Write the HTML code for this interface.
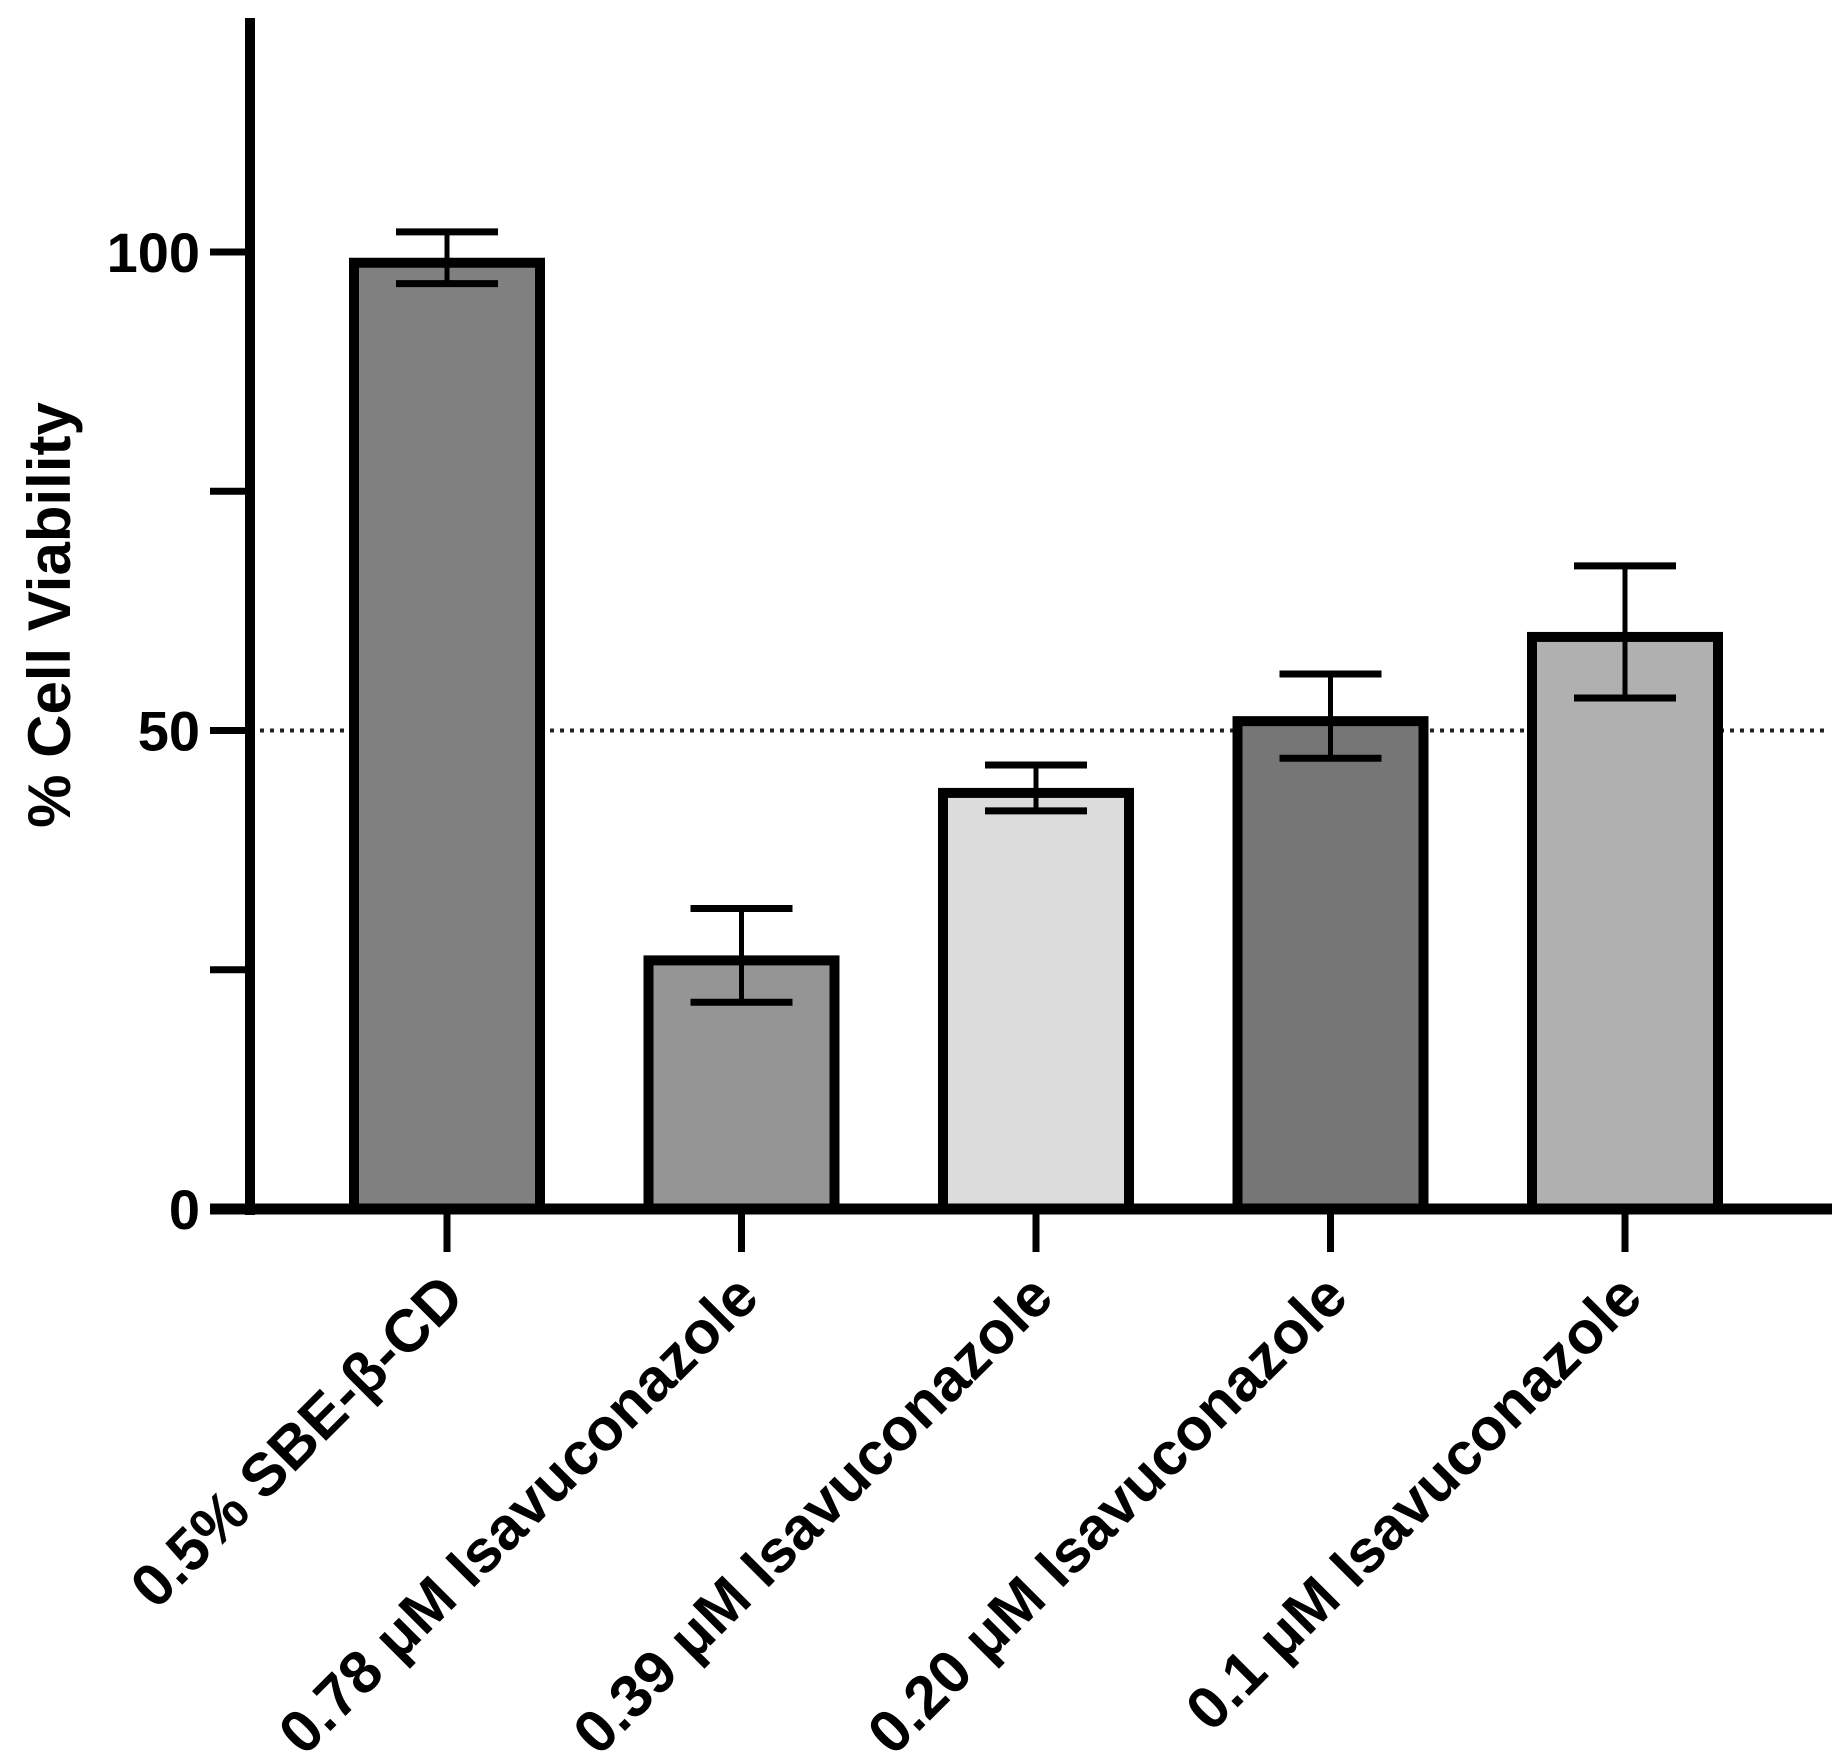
<!DOCTYPE html>
<html><head><meta charset="utf-8"><style>
html,body{margin:0;padding:0;background:#fff;}
svg{display:block;font-family:"Liberation Sans",Arial,sans-serif;font-weight:bold;}
</style></head><body>
<svg id="chart" width="1844" height="1758" viewBox="0 0 1844 1758"></svg>
<script>
const categories = ["0.5% SBE-β-CD","0.78 μM Isavuconazole","0.39 μM Isavuconazole","0.20 μM Isavuconazole","0.1 μM Isavuconazole"];
const means = [99.4, 26.5, 44.0, 51.5, 60.3];
const errors = [2.7, 4.9, 2.4, 4.4, 6.9];
const fills = ["#808080","#959595","#dcdcdc","#767676","#b0b0b0"];
const yTicks = [0, 25, 50, 75, 100];
const yTickLabels = ["0", "", "50", "", "100"];
const refLine = 50;

const NS = "http://www.w3.org/2000/svg";
const svg = document.getElementById("chart");
const y0 = 1209, pxPerUnit = 9.57;
const yScale = v => y0 - v * pxPerUnit;
const firstX = 447, step = 294.5, barW = 196;
const xScale = i => firstX + i * step;
const axisX = 250;

function mk(tag, attrs, parent) {
  const e = document.createElementNS(NS, tag);
  for (const k in attrs) e.setAttribute(k, attrs[k]);
  (parent || svg).appendChild(e);
  return e;
}

const ref = mk("line", {x1: axisX, x2: 1830, y1: yScale(refLine), y2: yScale(refLine), stroke: "#222", "stroke-width": 4, "stroke-dasharray": "4 6"});



categories.forEach((c, i) => {
  const cx = xScale(i);
  const top = yScale(means[i]);
  const r = mk("rect", {x: cx - barW/2 + 5, y: top + 5, width: barW - 10, height: y0 - top - 5, fill: fills[i], stroke: "#000", "stroke-width": 10});
  
  
  const g = mk("g", {stroke: "#000", "stroke-width": 5});
  
  
  const hi = yScale(means[i] + errors[i]), lo = yScale(means[i] - errors[i]);
  mk("line", {x1: cx, x2: cx, y1: hi, y2: lo}, g);
  mk("line", {x1: cx - 51, x2: cx + 51, y1: hi, y2: hi, "stroke-width": 7}, g);
  mk("line", {x1: cx - 51, x2: cx + 51, y1: lo, y2: lo, "stroke-width": 7}, g);
  const t = mk("line", {x1: cx, x2: cx, y1: y0, y2: 1252, stroke: "#000", "stroke-width": 7});
  
  
  const lbl = mk("text", {x: 0, y: 0, "font-size": 60, "text-anchor": "end", transform: `translate(${cx + 20},${1300}) rotate(-45)`});
  lbl.textContent = c;
  
  
});

const ya = mk("line", {x1: axisX, x2: axisX, y1: 18, y2: y0 + 6, stroke: "#000", "stroke-width": 10});


const xa = mk("line", {x1: 210, x2: 1832, y1: y0, y2: y0, stroke: "#000", "stroke-width": 11});



yTicks.forEach((v, i) => {
  const ty = yScale(v);
  const t = mk("line", {x1: 210, x2: axisX, y1: ty, y2: ty, stroke: "#000", "stroke-width": 7});
  
  
  if (yTickLabels[i]) {
    const l = mk("text", {x: 200, y: ty + 20, "font-size": 56, "text-anchor": "end"});
    l.textContent = yTickLabels[i];
    
    
  }
});

const yt = mk("text", {x: 0, y: 0, "font-size": 60, "text-anchor": "middle", transform: "translate(70,615) rotate(-90)"});
yt.textContent = "% Cell Viability";


</script>
</body></html>
